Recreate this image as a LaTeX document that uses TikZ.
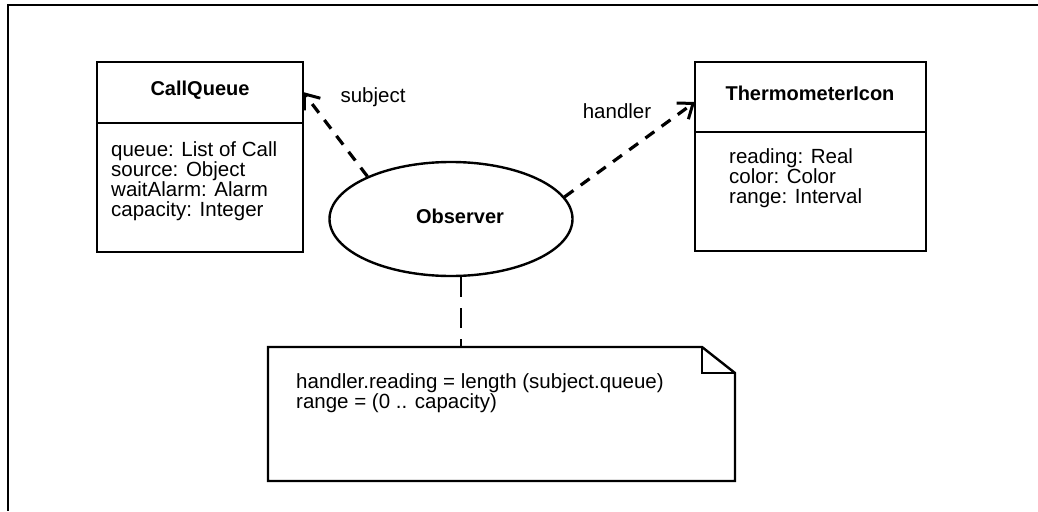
\documentclass[tikz,border=0pt]{standalone}
\usepackage{fontspec}
\setmainfont{Liberation Sans}
\usetikzlibrary{arrows.meta,shapes.geometric}
\begin{document}
\begin{tikzpicture}[x=1pt,y=1pt,
  txt/.style={font=\fontsize{20.5}{20}\selectfont,inner sep=0pt},
  ttl/.style={font=\fontsize{20}{20}\selectfont\bfseries,inner sep=0pt},
  attrs/.style={txt,align=left,anchor=north west},
  boxline/.style={line width=2.4pt},
  dep/.style={line width=3.2pt,dash pattern=on 11pt off 9pt,-{Straight Barb[length=13pt,width=20pt,line width=3pt]}},
  anchorline/.style={line width=1.5pt,dash pattern=on 20pt off 11pt}]
\useasboundingbox (0,0) rectangle (1038,-511);
% frame
\draw[line width=2pt] (1038,-5) -- (8,-5) -- (8,-511);
% CallQueue class
\draw[boxline] (97,-62) rectangle (303,-252);
\draw[boxline] (97,-123) -- (303,-123);
\node[ttl,anchor=base] (cqt) at (200,-95) {CallQueue};
\node[attrs] (cqa) at (111,-141) {queue: List of Call\\source: Object\\waitAlarm: Alarm\\capacity: Integer};
\coordinate (cqtip) at (303,-92);
% ThermometerIcon class
\draw[boxline] (695,-62) rectangle (926,-251);
\draw[boxline] (695,-132) -- (926,-132);
\node[ttl,anchor=base] (tit) at (810,-100) {ThermometerIcon};
\node[attrs] (tia) at (729,-148) {reading: Real\\color: Color\\range: Interval};
\coordinate (titip) at (695,-102);
% Observer collaboration
\node[ellipse,draw,line width=2.4pt,minimum width=243pt,minimum height=114pt,inner sep=0pt] (obs) at (451,-219) {};
\node[ttl,anchor=base] (obst) at (460,-223) {Observer};
% dependencies
\draw[dep] (obs.153) -- (cqtip);
\draw[dep] (obs.11) -- (titip);
\node[txt,anchor=base] (subj) at (373,-102) {subject};
\node[txt,anchor=base] (hand) at (617,-118) {handler};
% note
\draw[boxline,line join=miter] (268,-347) -- (702,-347) -- (735,-373) -- (735,-481) -- (268,-481) -- cycle;
\draw[line width=1.6pt] (702,-347) -- (702,-373) -- (735,-373);
\node[attrs] (nt) at (296,-373) {handler.reading = length (subject.queue)\\range = (0 .. capacity)};
\coordinate (ntop) at (461,-347);
\draw[anchorline] (obs.south -| ntop) -- (ntop);
\end{tikzpicture}
\end{document}
